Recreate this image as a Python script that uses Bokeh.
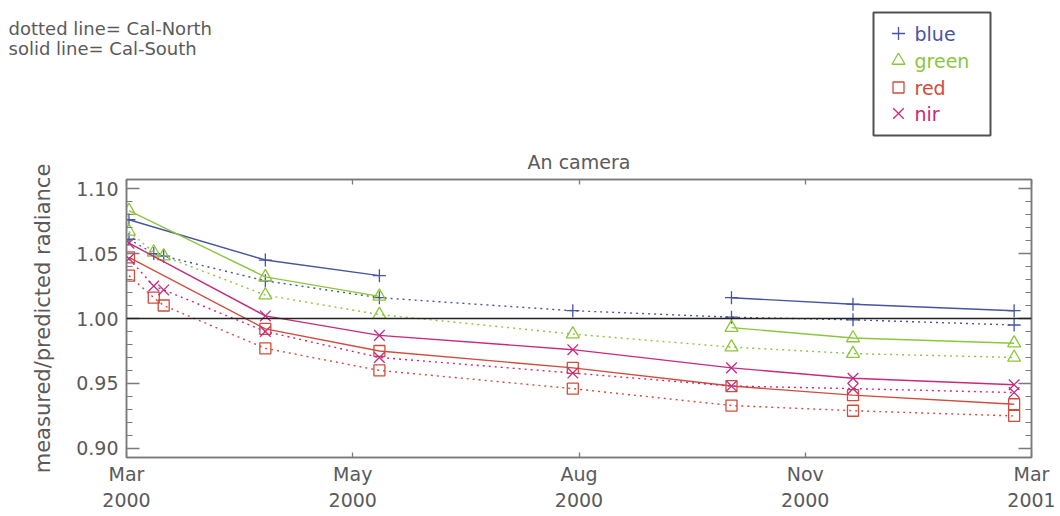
from bokeh.plotting import figure
from bokeh.layouts import column
from bokeh.models import FixedTicker, LinearAxis, Range1d, Span
from bokeh.core.properties import value
from bokeh.embed import file_html
from bokeh.resources import INLINE

NaN = float("nan")

# Observation dates, in days since 2000-03-01
south_days = [1, 56, 102, 180, 244, 293, 358]
north_days = [1, 11, 15, 56, 102, 180, 244, 293, 358]

# Cal-South (solid lines)
south_blue = [1.076, 1.045, 1.033, NaN, 1.016, 1.011, 1.006]
south_green = [1.083, 1.032, 1.017, NaN, 0.993, 0.985, 0.981]
south_red = [1.047, 0.992, 0.975, 0.962, 0.948, 0.941, 0.934]
south_nir = [1.058, 1.002, 0.987, 0.976, 0.962, 0.954, 0.949]

# Cal-North (dotted lines)
north_blue = [1.061, 1.050, 1.048, 1.029, 1.016, 1.006, 1.001, 0.999, 0.995]
north_green = [1.067, 1.051, 1.048, 1.018, 1.003, 0.988, 0.978, 0.973, 0.970]
north_red = [1.033, 1.016, 1.010, 0.977, 0.960, 0.946, 0.933, 0.929, 0.925]
north_nir = [1.046, 1.025, 1.022, 0.990, 0.970, 0.958, 0.948, 0.946, 0.943]

bands = ["blue", "green", "red", "nir"]
band_colors = ["#4654a2", "#8cc63c", "#d04c3c", "#c82a7c"]
band_markers = ["cross", "triangle", "square", "x"]
band_sizes = [13, 13, 11, 15]

x_tick_days = [0, 91.25, 182.5, 273.75, 365]
x_tick_labels = ["Mar\n2000", "May\n2000", "Aug\n2000", "Nov\n2000", "Mar\n2001"]
y_ticks = [0.90, 0.95, 1.00, 1.05, 1.10]
y_minor = [round(0.90 + 0.01 * i, 2) for i in range(21)]

title_text = "An camera"
notes = ["dotted line= Cal-North", "solid line= Cal-South"]

FONT = "DejaVu Sans"
GREY = "#5a5a5a"
AXIS = "#7a7a7a"
W = 1060
HEAD_H = 140
MAIN_H = 516 - HEAD_H

# ---- header strip: line-style notes and the key (pixel coordinates, y down) ----
head = figure(width=W, height=HEAD_H, output_backend="svg", toolbar_location=None,
              x_range=Range1d(0, W), y_range=Range1d(HEAD_H, 0),
              x_axis_type=None, y_axis_type=None, min_border=0)
head.frame_align = False
head.xgrid.visible = False
head.ygrid.visible = False
head.outline_line_color = None
head.background_fill_color = "white"
head.border_fill_color = "white"

head.text(x=[8, 8], y=[28, 48], text=notes, text_font=value(FONT),
          text_font_size="18px", text_color=GREY, text_baseline="alphabetic",
          text_align="left")

head.quad(left=[873], right=[990], top=[12], bottom=[135], fill_color=None,
          line_color="#505050", line_width=2)

key_rows = [33, 60, 87, 113]
for band, col, mk, sz, yrow in zip(bands, band_colors, band_markers, band_sizes, key_rows):
    head.scatter(x=[898], y=[yrow], marker=mk, size=sz, line_color=col,
                 line_width=1.3, fill_color=None)
    head.text(x=[914], y=[yrow], text=[band], text_font=value(FONT),
              text_font_size="19px", text_color=col, text_baseline="middle",
              text_align="left")

# ---- main panel ----
p = figure(width=W, height=MAIN_H, output_backend="svg", toolbar_location=None,
           x_range=Range1d(0, 365), y_range=Range1d(0.893, 1.107),
           min_border_left=126, min_border_right=29,
           min_border_top=179 - HEAD_H, min_border_bottom=59)
p.frame_align = False
p.xgrid.visible = False
p.ygrid.visible = False
p.outline_line_color = AXIS
p.outline_line_width = 1.5
p.background_fill_color = "white"
p.border_fill_color = "white"

p.title.text = title_text
p.title.align = "center"
p.title.text_font = FONT
p.title.text_font_size = "19px"
p.title.text_font_style = "normal"
p.title.text_color = GREY
p.title.standoff = 14


def style_axis(ax, ticker, major_in, minor_in, show_labels):
    ax.ticker = ticker
    ax.axis_line_color = AXIS
    ax.axis_line_width = 1.5
    ax.major_tick_line_color = AXIS
    ax.minor_tick_line_color = AXIS
    ax.major_tick_line_width = 1.3
    ax.minor_tick_line_width = 1.1
    ax.major_tick_in = major_in
    ax.major_tick_out = 0
    ax.minor_tick_in = minor_in
    ax.minor_tick_out = 0
    ax.major_label_text_font = FONT
    if show_labels:
        ax.major_label_text_font_size = "19px"
        ax.major_label_text_color = GREY
    else:
        ax.major_label_text_font_size = "0px"
        ax.major_label_text_color = None
        ax.major_label_standoff = 0


style_axis(p.xaxis[0], FixedTicker(ticks=x_tick_days, minor_ticks=[]), 5, 0, True)
p.xaxis[0].major_label_overrides = {t: lab for t, lab in zip(x_tick_days, x_tick_labels)}
p.xaxis[0].major_label_standoff = 5

style_axis(p.yaxis[0], FixedTicker(ticks=y_ticks, minor_ticks=y_minor), 13, 6, True)
p.yaxis[0].major_label_overrides = {t: f"{t:.2f}" for t in y_ticks}
p.yaxis[0].major_label_standoff = 8
p.yaxis[0].axis_label = "measured/predicted radiance"
p.yaxis[0].axis_label_text_font = FONT
p.yaxis[0].axis_label_text_font_size = "21px"
p.yaxis[0].axis_label_text_font_style = "normal"
p.yaxis[0].axis_label_text_color = GREY
p.yaxis[0].axis_label_standoff = 18

top_axis = LinearAxis()
style_axis(top_axis, FixedTicker(ticks=x_tick_days, minor_ticks=[]), 5, 0, False)
p.add_layout(top_axis, "above")

right_axis = LinearAxis()
style_axis(right_axis, FixedTicker(ticks=y_ticks, minor_ticks=y_minor), 13, 6, False)
p.add_layout(right_axis, "right")

# reference level
p.add_layout(Span(location=1.0, dimension="width", line_color="#222222", line_width=1.6))

south_series = [south_blue, south_green, south_red, south_nir]
north_series = [north_blue, north_green, north_red, north_nir]

for col, mk, sz, s_vals, n_vals in zip(band_colors, band_markers, band_sizes,
                                       south_series, north_series):
    p.line(north_days, n_vals, line_color=col, line_width=1.4, line_dash="2 4")
    p.scatter(north_days, n_vals, marker=mk, size=sz, line_color=col,
              line_width=1.3, fill_color=None)
    p.line(south_days, s_vals, line_color=col, line_width=1.4)
    p.scatter(south_days, s_vals, marker=mk, size=sz, line_color=col,
              line_width=1.3, fill_color=None)

layout = column(head, p, spacing=0)
open("out.html", "w").write(file_html(layout, INLINE))
